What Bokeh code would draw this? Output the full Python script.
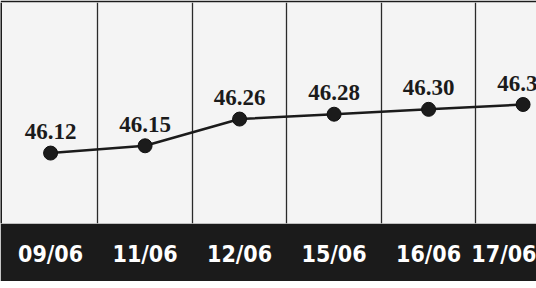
from bokeh.plotting import figure
from bokeh.models import ColumnDataSource, FixedTicker, Range1d, LabelSet, Span
from bokeh.embed import file_html
from bokeh.resources import INLINE

dates = ["09/06", "11/06", "12/06", "15/06", "16/06", "17/06"]
values = [46.12, 46.15, 46.26, 46.28, 46.30, 46.32]
labels = ["46.12", "46.15", "46.26", "46.28", "46.30", "46.32"]

idx = list(range(len(dates)))
src = ColumnDataSource(dict(x=idx, y=values, lab=labels))

p = figure(frame_width=536, frame_height=221, output_backend="svg", toolbar_location=None,
           x_range=Range1d(-0.53, 5.142), y_range=Range1d(45.83, 46.74),
           min_border=0, min_border_left=0, min_border_top=2, min_border_right=0,
           min_border_bottom=58)
p.background_fill_color = "#f4f4f4"
p.border_fill_color = "#1b1b1b"
p.outline_line_color = None

p.yaxis.visible = False
p.ygrid.visible = False

p.xaxis.ticker = FixedTicker(ticks=idx)
p.xaxis.major_label_overrides = {i: d for i, d in zip(idx, dates)}
p.xaxis.axis_line_color = None
p.xaxis.major_tick_line_color = None
p.xaxis.minor_tick_line_color = None
p.xaxis.major_label_text_color = "#ffffff"
p.xaxis.major_label_text_font = "DejaVu Sans Condensed"
p.xaxis.major_label_text_font_style = "bold"
p.xaxis.major_label_text_font_size = "23px"
p.xaxis.major_label_standoff = 11

p.xgrid.ticker = FixedTicker(ticks=[i + 0.5 for i in idx[:-1]])
p.xgrid.grid_line_color = "#2a2a2a"
p.xgrid.grid_line_width = 1.3

p.add_layout(Span(location=-0.53, dimension="height", line_color="#1b1b1b", line_width=3))

p.line("x", "y", source=src, line_color="#1b1b1b", line_width=2.5)
p.scatter("x", "y", source=src, size=14, fill_color="#1b1b1b", line_color="#111111")

lbl = LabelSet(x="x", y="y", text="lab", source=src, text_align="center",
               text_baseline="alphabetic", y_offset=14, text_font="Liberation Serif",
               text_font_style="bold", text_font_size="23px", text_color="#1b1b1b")
p.add_layout(lbl)

open("out.html", "w").write(file_html(p, INLINE))
